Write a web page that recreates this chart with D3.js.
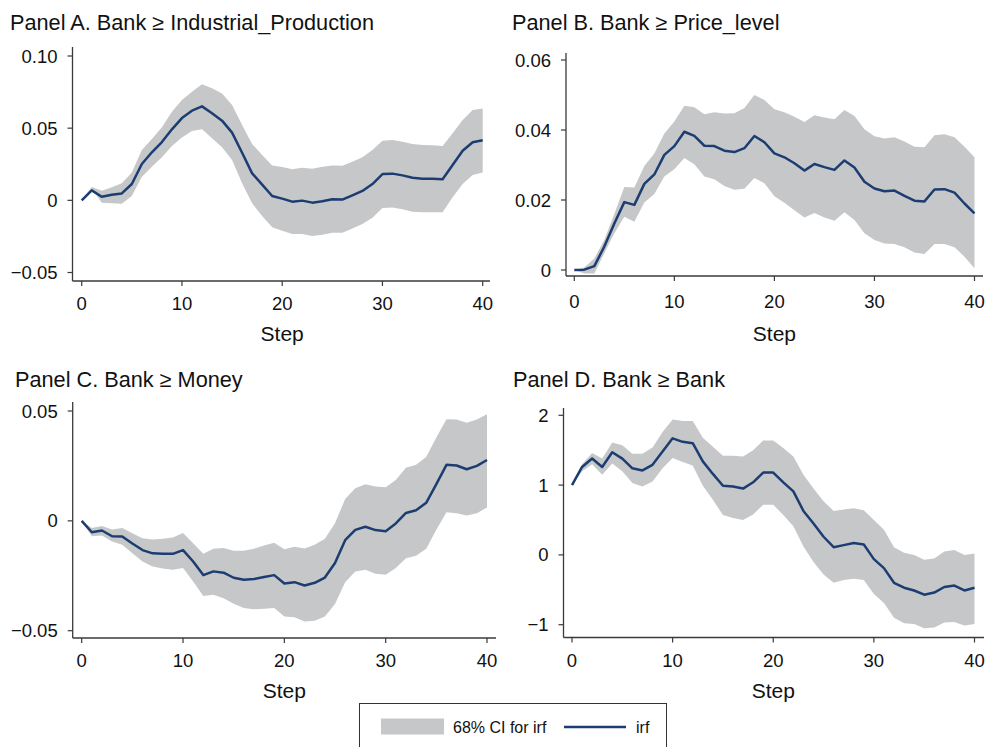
<!DOCTYPE html>
<html>
<head>
<meta charset="utf-8">
<script src="https://cdn.jsdelivr.net/npm/d3@7"></script>
<style>
  html, body { margin: 0; padding: 0; background: #fff; }
  svg { display: block; font-family: "Liberation Sans", Arial, Helvetica, sans-serif; }
</style>
</head>
<body>
<svg id="chart" width="986" height="747"></svg>
<script>
// Impulse responses to a bank shock, 0..40 steps, with 68% confidence bands
const steps = [0,1,2,3,4,5,6,7,8,9,10,11,12,13,14,15,16,17,18,19,20,
               21,22,23,24,25,26,27,28,29,30,31,32,33,34,35,36,37,38,39,40];

// Panel A: Bank -> Industrial_Production
const irfA = [0,0.0069,0.0025,0.0039,0.0048,0.0113,0.0252,0.0333,0.0404,0.0492,0.0570,
              0.0621,0.0651,0.0603,0.0552,0.0469,0.0330,0.0187,0.0109,0.0030,0.0012,
              -0.0009,-0.0002,-0.0016,-0.0007,0.0007,0.0005,0.0035,0.0065,0.0113,0.0182,
              0.0185,0.0173,0.0157,0.0150,0.0150,0.0146,0.0245,0.0344,0.0402,0.0416];
const loA  = [0,0.0081,-0.0016,-0.0021,-0.0023,0.0030,0.0164,0.0233,0.0298,0.0376,0.0436,
              0.0480,0.0492,0.0430,0.0367,0.0279,0.0118,-0.0021,-0.0109,-0.0187,-0.0210,
              -0.0233,-0.0233,-0.0247,-0.0238,-0.0224,-0.0224,-0.0196,-0.0164,-0.0120,-0.0053,
              -0.0049,-0.0062,-0.0079,-0.0083,-0.0083,-0.0083,0.0021,0.0113,0.0176,0.0192];
const hiA  = [0,0.0092,0.0067,0.0090,0.0118,0.0192,0.0349,0.0425,0.0506,0.0614,0.0695,
              0.0753,0.0804,0.0776,0.0741,0.0661,0.0522,0.0390,0.0314,0.0242,0.0231,
              0.0215,0.0226,0.0219,0.0233,0.0242,0.0240,0.0268,0.0298,0.0349,0.0413,
              0.0418,0.0406,0.0390,0.0383,0.0381,0.0376,0.0464,0.0557,0.0626,0.0637];

// Panel B: Bank -> Price_level
const irfB = [0,0.0001,0.0011,0.0067,0.0133,0.0194,0.0186,0.0246,0.0273,0.0329,0.0354,
              0.0395,0.0383,0.0355,0.0354,0.0341,0.0337,0.0348,0.0383,0.0365,0.0333,
              0.0322,0.0305,0.0284,0.0303,0.0294,0.0286,0.0313,0.0293,0.0252,0.0233,
              0.0225,0.0227,0.0212,0.0198,0.0196,0.0230,0.0231,0.0221,0.0190,0.0162];
const loB  = [0,-0.0010,-0.0010,0.0048,0.0105,0.0152,0.0138,0.0193,0.0217,0.0267,0.0288,
              0.0320,0.0302,0.0267,0.0259,0.0240,0.0229,0.0232,0.0263,0.0248,0.0211,
              0.0192,0.0171,0.0150,0.0163,0.0150,0.0141,0.0165,0.0143,0.0105,0.0086,
              0.0076,0.0074,0.0065,0.0050,0.0046,0.0074,0.0074,0.0065,0.0038,0.0005];
const hiB  = [0,0.0007,0.0033,0.0086,0.0160,0.0237,0.0236,0.0297,0.0333,0.0390,0.0424,
              0.0469,0.0465,0.0445,0.0451,0.0447,0.0448,0.0463,0.0500,0.0486,0.0459,
              0.0451,0.0438,0.0423,0.0442,0.0436,0.0431,0.0457,0.0440,0.0402,0.0382,
              0.0376,0.0379,0.0367,0.0352,0.0351,0.0385,0.0388,0.0379,0.0352,0.0322];

// Panel C: Bank -> Money
const irfC = [0,-0.0052,-0.0044,-0.0070,-0.0071,-0.0103,-0.0133,-0.0148,-0.0150,-0.0150,-0.0133,
              -0.0185,-0.0247,-0.0230,-0.0236,-0.0259,-0.0268,-0.0265,-0.0256,-0.0247,-0.0285,
              -0.0279,-0.0294,-0.0282,-0.0258,-0.0192,-0.0088,-0.0041,-0.0027,-0.0042,-0.0047,
              -0.0012,0.0036,0.0048,0.0082,0.0167,0.0255,0.0252,0.0235,0.0250,0.0277];
const loC  = [0,-0.0070,-0.0067,-0.0094,-0.0109,-0.0147,-0.0185,-0.0208,-0.0217,-0.0223,-0.0215,
              -0.0276,-0.0342,-0.0336,-0.0352,-0.0377,-0.0397,-0.0402,-0.0400,-0.0397,-0.0435,
              -0.0439,-0.0458,-0.0455,-0.0435,-0.0379,-0.0279,-0.0230,-0.0223,-0.0241,-0.0245,
              -0.0215,-0.0170,-0.0159,-0.0127,-0.0041,0.0039,0.0035,0.0024,0.0035,0.0061];
const hiC  = [0,-0.0033,-0.0023,-0.0039,-0.0033,-0.0056,-0.0079,-0.0085,-0.0082,-0.0076,-0.0055,
              -0.0102,-0.0150,-0.0127,-0.0124,-0.0136,-0.0136,-0.0127,-0.0112,-0.0100,-0.0129,
              -0.0118,-0.0126,-0.0109,-0.0082,-0.0011,0.0100,0.0148,0.0167,0.0156,0.0153,
              0.0186,0.0242,0.0255,0.0291,0.0379,0.0462,0.0461,0.0447,0.0461,0.0485];

// Panel D: Bank -> Bank
const irfD = [1.00,1.26,1.38,1.26,1.47,1.38,1.24,1.21,1.29,1.48,1.67,
              1.62,1.60,1.34,1.16,0.99,0.98,0.95,1.04,1.18,1.18,
              1.04,0.91,0.63,0.45,0.26,0.11,0.14,0.17,0.15,-0.06,
              -0.19,-0.40,-0.47,-0.51,-0.57,-0.54,-0.46,-0.44,-0.51,-0.47];
const loD  = [1.00,1.20,1.30,1.15,1.31,1.20,1.03,0.98,1.05,1.24,1.39,
              1.33,1.28,0.99,0.79,0.57,0.53,0.50,0.58,0.72,0.72,
              0.57,0.41,0.12,-0.10,-0.28,-0.40,-0.36,-0.34,-0.36,-0.56,
              -0.69,-0.90,-0.98,-0.99,-1.05,-1.04,-0.97,-0.96,-1.01,-0.99];
const hiD  = [1.00,1.30,1.46,1.38,1.61,1.57,1.45,1.45,1.54,1.76,1.94,
              1.92,1.92,1.68,1.55,1.42,1.42,1.41,1.50,1.64,1.64,
              1.53,1.41,1.15,0.95,0.77,0.63,0.65,0.67,0.64,0.50,
              0.36,0.11,0.03,0.00,-0.07,-0.05,0.05,0.07,0.00,0.02];

// Axis ticks and their labels
const xTicks = [0, 10, 20, 30, 40];
const yTicksA = [-0.05, 0, 0.05, 0.10];
const yLabelsA = ["\u22120.05", "0", "0.05", "0.10"];
const yTicksB = [0, 0.02, 0.04, 0.06];
const yLabelsB = ["0", "0.02", "0.04", "0.06"];
const yTicksC = [-0.05, 0, 0.05];
const yLabelsC = ["\u22120.05", "0", "0.05"];
const yTicksD = [-1, 0, 1, 2];
const yLabelsD = ["\u22121", "0", "1", "2"];

const titles = ["Panel A. Bank \u2265 Industrial_Production",
                "Panel B. Bank \u2265 Price_level",
                "Panel C. Bank \u2265 Money",
                "Panel D. Bank \u2265 Bank"];
const xTitle = "Step";
const legendLabels = ["68% CI for irf", "irf"];

// Styles
const BAND = "#c6c7c9";
const LINE = "#1c3d71";
const AXIS = "#3a3a3a";
const TEXT = "#111";

// Geometry of each panel: plot box, pixel spots of the first/last tick, text rows
const panels = [
  { title: titles[0], irf: irfA, lo: loA, hi: hiA, yTicks: yTicksA, yLabels: yLabelsA,
    box: {l: 72.5, r: 490, t: 47, b: 281}, xPx: [81.7, 482.7], yPx: [272.5, 56],
    titleX: 10, titleY: 30, tickY: 303, stepY: 333 },
  { title: titles[1], irf: irfB, lo: loB, hi: hiB, yTicks: yTicksB, yLabels: yLabelsB,
    box: {l: 566, r: 983, t: 53, b: 276}, xPx: [574.3, 974.5], yPx: [270, 60],
    titleX: 512, titleY: 30, tickY: 301, stepY: 333 },
  { title: titles[2], irf: irfC, lo: loC, hi: hiC, yTicks: yTicksC, yLabels: yLabelsC,
    box: {l: 72.7, r: 496, t: 402, b: 638}, xPx: [81.7, 487], yPx: [630.7, 411],
    titleX: 15, titleY: 387, tickY: 660, stepY: 690 },
  { title: titles[3], irf: irfD, lo: loD, hi: hiD, yTicks: yTicksD, yLabels: yLabelsD,
    box: {l: 563.5, r: 984, t: 408, b: 637.5}, xPx: [572, 974.5], yPx: [624.7, 415.3],
    titleX: 513, titleY: 387, tickY: 660, stepY: 690 }
];

const svg = d3.select("#chart");

panels.forEach(p => {
  const g = svg.append("g");
  const x = d3.scaleLinear().domain([xTicks[0], xTicks[xTicks.length - 1]]).range(p.xPx);
  const y = d3.scaleLinear().domain([p.yTicks[0], p.yTicks[p.yTicks.length - 1]]).range(p.yPx);

  const rows = steps.map((s, i) => ({ s, irf: p.irf[i], lo: p.lo[i], hi: p.hi[i] }));

  // confidence band
  g.append("path")
    .datum(rows)
    .attr("fill", BAND)
    .attr("d", d3.area().x(d => x(d.s)).y0(d => y(d.lo)).y1(d => y(d.hi)));

  // impulse response line
  g.append("path")
    .datum(rows)
    .attr("fill", "none")
    .attr("stroke", LINE)
    .attr("stroke-width", 2.5)
    .attr("stroke-linejoin", "round")
    .attr("d", d3.line().x(d => x(d.s)).y(d => y(d.irf)));

  // axis lines
  g.append("line")
    .attr("x1", p.box.l).attr("x2", p.box.l).attr("y1", p.box.t).attr("y2", p.box.b)
    .attr("stroke", AXIS).attr("stroke-width", 1.3);
  g.append("line")
    .attr("x1", p.box.l).attr("x2", p.box.r).attr("y1", p.box.b).attr("y2", p.box.b)
    .attr("stroke", AXIS).attr("stroke-width", 1.3);

  // y ticks and labels
  const yt = g.append("g").selectAll("g").data(p.yTicks).join("g");
  yt.append("line")
    .attr("x1", p.box.l - 5).attr("x2", p.box.l)
    .attr("y1", d => y(d)).attr("y2", d => y(d))
    .attr("stroke", AXIS).attr("stroke-width", 1.2);
  yt.append("text")
    .attr("x", p.box.l - 15).attr("y", d => y(d))
    .attr("text-anchor", "end").attr("dominant-baseline", "central")
    .attr("font-size", 18.5).attr("fill", TEXT)
    .text((d, i) => p.yLabels[i]);

  // x ticks and labels
  const xt = g.append("g").selectAll("g").data(xTicks).join("g");
  xt.append("line")
    .attr("x1", d => x(d)).attr("x2", d => x(d))
    .attr("y1", p.box.b).attr("y2", p.box.b + 5)
    .attr("stroke", AXIS).attr("stroke-width", 1.2);
  xt.append("text")
    .attr("x", d => x(d)).attr("y", p.tickY)
    .attr("text-anchor", "middle").attr("dominant-baseline", "central")
    .attr("font-size", 18.5).attr("fill", TEXT)
    .text(d => d);

  // x title
  g.append("text")
    .attr("x", (p.xPx[0] + p.xPx[1]) / 2).attr("y", p.stepY)
    .attr("text-anchor", "middle").attr("dominant-baseline", "central")
    .attr("font-size", 21).attr("fill", TEXT)
    .text(xTitle);

  // panel title
  g.append("text")
    .attr("x", p.titleX).attr("y", p.titleY)
    .attr("font-size", 21.7).attr("fill", TEXT)
    .text(p.title);
});

// legend
const lg = svg.append("g");
lg.append("rect")
  .attr("x", 359.5).attr("y", 703.5).attr("width", 307).attr("height", 80)
  .attr("fill", "#fff").attr("stroke", "#333").attr("stroke-width", 1);
lg.append("rect")
  .attr("x", 381).attr("y", 718.5).attr("width", 63).attr("height", 16)
  .attr("fill", BAND);
lg.append("text")
  .attr("x", 453).attr("y", 727)
  .attr("dominant-baseline", "central").attr("font-size", 16).attr("fill", TEXT)
  .text(legendLabels[0]);
lg.append("line")
  .attr("x1", 564).attr("x2", 626).attr("y1", 727).attr("y2", 727)
  .attr("stroke", LINE).attr("stroke-width", 2.5);
lg.append("text")
  .attr("x", 636).attr("y", 727)
  .attr("dominant-baseline", "central").attr("font-size", 16).attr("fill", TEXT)
  .text(legendLabels[1]);
</script>
</body>
</html>
